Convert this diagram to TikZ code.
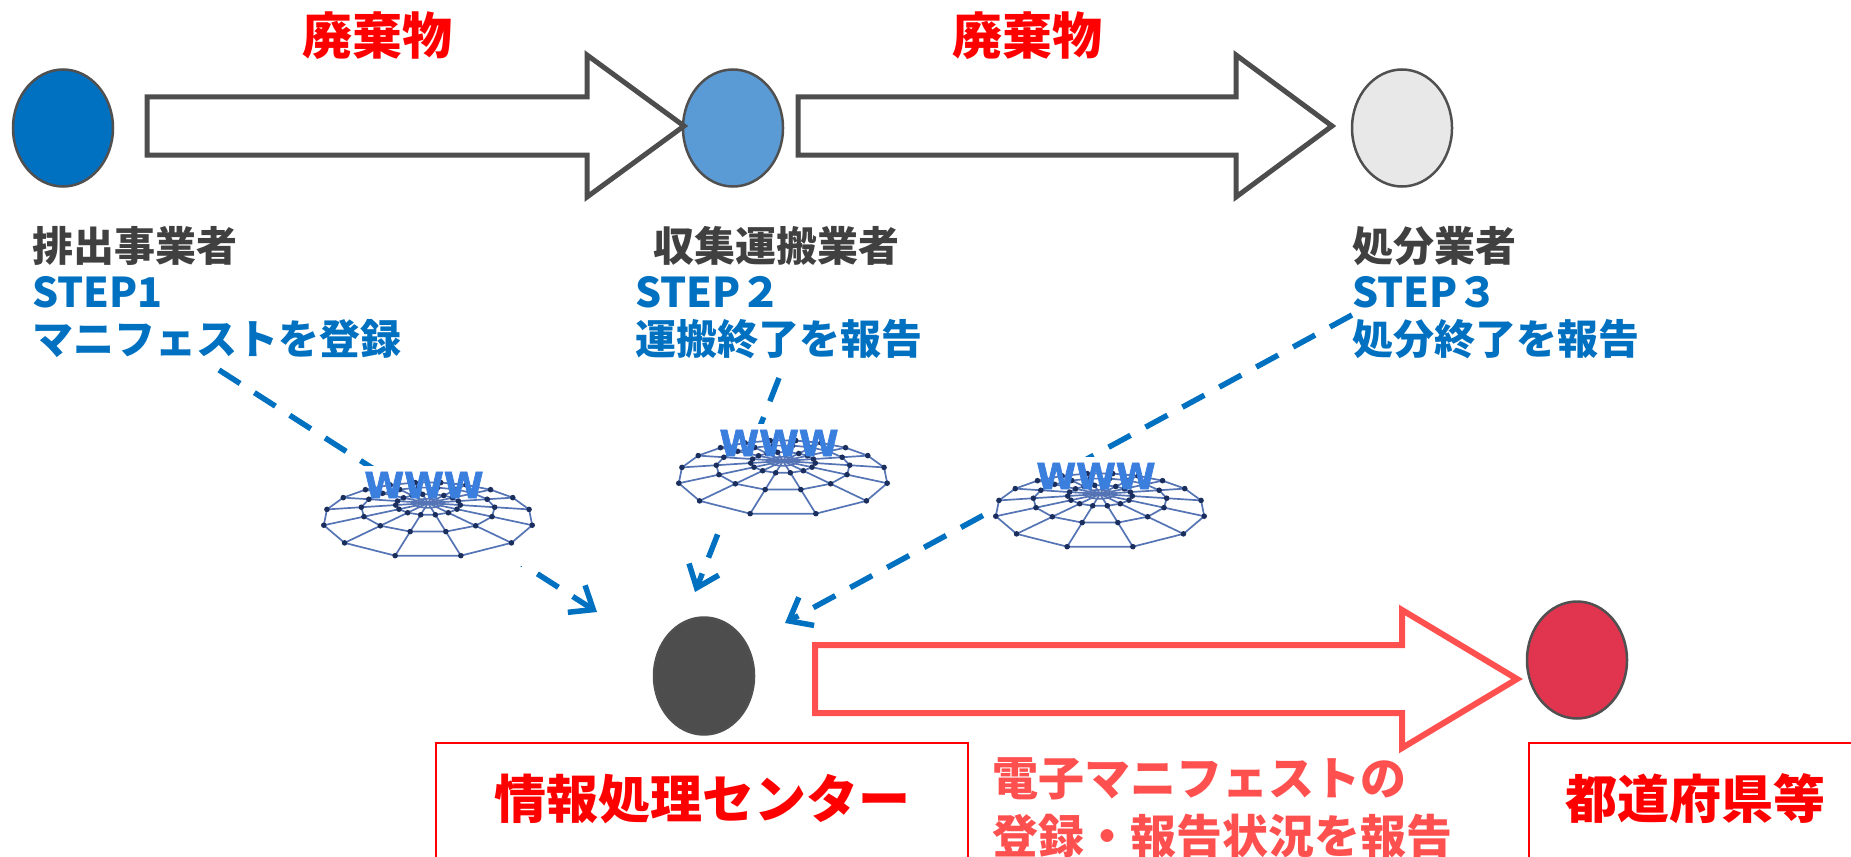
\documentclass[tikz,border=0pt]{standalone}
\usepackage{fontspec}
\setmainfont{Noto Sans CJK JP}
\newfontfamily\wwwfont{DejaVu Sans}[BoldFeatures={FakeBold=2}]
\usetikzlibrary{arrows.meta,shapes.geometric}
\definecolor{cBlue}{HTML}{0070C0}
\definecolor{cLBlue}{HTML}{5B9BD5}
\definecolor{cLGray}{HTML}{E8E8E8}
\definecolor{cDGray}{HTML}{4D4D4D}
\definecolor{cCrim}{HTML}{E0344F}
\definecolor{cOut}{HTML}{505050}
\definecolor{cTxt}{HTML}{404040}
\definecolor{cRed}{HTML}{FF0000}
\definecolor{cSalmon}{HTML}{FF5050}
\definecolor{cNet}{HTML}{5574B5}
\definecolor{cDot}{HTML}{1B2F5E}
\definecolor{cWWW}{HTML}{3B7FDE}
\begin{document}
\begin{tikzpicture}[x=1pt,y=-1pt,
  declare function={gp(\ra,\ta)=1/(1-0.45*\ra*sin(\ta));
                    gx(\ra,\ta)=94*\ra*cos(\ta)*gp(\ra,\ta);
                    gy(\ra,\ta)=30*\ra*sin(\ta)*gp(\ra,\ta);},
  party/.style={shape=ellipse,draw=cOut,line width=2.5pt,minimum width=100pt,minimum height=117pt,inner sep=0pt},
  blockarrow/.style={line width=5pt,line join=miter,fill=white},
  lab/.style={font=\fontsize{41}{48}\selectfont\bfseries,anchor=base west,inner sep=0pt},
  waste/.style={font=\fontsize{50}{58}\selectfont\bfseries,text=cRed,anchor=base,inner sep=0pt},
  bigred/.style={font=\fontsize{52}{60}\selectfont\bfseries,text=cRed,anchor=base,inner sep=0pt},
  report/.style={font=\fontsize{46}{58}\selectfont\bfseries,text=cSalmon,anchor=base west,inner sep=0pt},
  dasharrow/.style={draw=cBlue,line width=5.5pt,dash pattern=on 25pt off 17pt,-{Straight Barb[length=20pt,width=32pt]}},
  netline/.style={draw=cNet,line width=1.7pt,line join=round},
  frame/.style={draw=cRed,line width=2pt},
  www/.pic={
    \fill[white] (-105,-37) rectangle (101,63);
    \foreach \rr in {1,0.68,0.34,0.15}{
      \draw[netline] plot[samples at={11.25,33.75,...,348.75}] ({gx(\rr,\x)},{gy(\rr,\x)}) -- cycle;
    }
    \foreach \k in {0,...,15}{
      \draw[netline] (0,0) -- ({gx(1,22.5*\k+11.25)},{gy(1,22.5*\k+11.25)});
    }
    \foreach \rr in {1,0.68,0.34}{
      \foreach \k in {0,...,15}{
        \fill[cDot] ({gx(\rr,22.5*\k+11.25)},{gy(\rr,22.5*\k+11.25)}) circle[radius=2.8pt];
      }
    }
    \node[font=\wwwfont\fontsize{36}{40}\selectfont\bfseries,text=cWWW,inner sep=0pt] (-t) at (-4,-18) {WWW};
  }
]
\useasboundingbox (0,0) rectangle (1851,856);

% top row parties
\node[party,fill=cBlue] (gen) at (63,128) {};
\node[party,fill=cLBlue] (col) at (733,128) {};
\node[party,fill=cLGray] (dis) at (1402,128) {};

% waste block arrows
\draw[blockarrow,draw=cDGray] (147,97) -- (587,97) -- (587,55) -- (684,126) -- (587,197) -- (587,155) -- (147,155) -- cycle;
\draw[blockarrow,draw=cDGray] (798,97) -- (1236,97) -- (1236,55) -- (1332,126) -- (1236,197) -- (1236,155) -- (798,155) -- cycle;
\node[waste] (w1) at (377,55) {廃棄物};
\node[waste] (w2) at (1027,55) {廃棄物};

% labels
\node[lab,text=cTxt] (l1a) at (32,261) {排出事業者};
\node[lab,text=cBlue] (l1b) at (32,307) {STEP1};
\node[lab,text=cBlue] (l1c) at (32,354) {マニフェストを登録};
\node[lab,text=cTxt] (l2a) at (653,261) {収集運搬業者};
\node[lab,text=cBlue] (l2b) at (635,307) {STEP２};
\node[lab,text=cBlue] (l2c) at (635,354) {運搬終了を報告};
\node[lab,text=cTxt] (l3a) at (1352,261) {処分業者};
\node[lab,text=cBlue] (l3b) at (1352,307) {STEP３};
\node[lab,text=cBlue] (l3c) at (1352,354) {処分終了を報告};

% dashed reports
\coordinate (s1) at (219,370); \coordinate (e1) at (597,612);
\coordinate (s2) at (779,378); \coordinate (e2) at (695,592);
\coordinate (s3) at (1352,315); \coordinate (e3) at (785,623);
\draw[dasharrow] (s1) -- (e1);
\draw[dasharrow] (s2) -- (e2);
\draw[dasharrow] (s3) -- (e3);

% www globes
\pic (g1) at (428,503) {www};
\pic (g2) at (783,461) {www};
\pic (g3) at (1100,494) {www};

% bottom
\node[party,fill=cDGray] (ctr) at (704,676) {};
\node[party,fill=cCrim] (pref) at (1577,660) {};
\draw[blockarrow,draw=cSalmon,line width=6pt] (815,645) -- (1402,645) -- (1402,610) -- (1517,679) -- (1402,748) -- (1402,713) -- (815,713) -- cycle;

\draw[frame] (436,880) -- (436,743) -- (968,743) -- (968,880);
\draw[frame] (1529,880) -- (1529,743) -- (1880,743);
\node[bigred] (ctrlab) at (702,818) {情報処理センター};
\node[bigred] (preflab) at (1695,818) {都道府県等};
\node[report] (rep1) at (992,795) {電子マニフェストの};
\node[report] (rep2) at (992,853) {登録・報告状況を報告};
\end{tikzpicture}
\end{document}
